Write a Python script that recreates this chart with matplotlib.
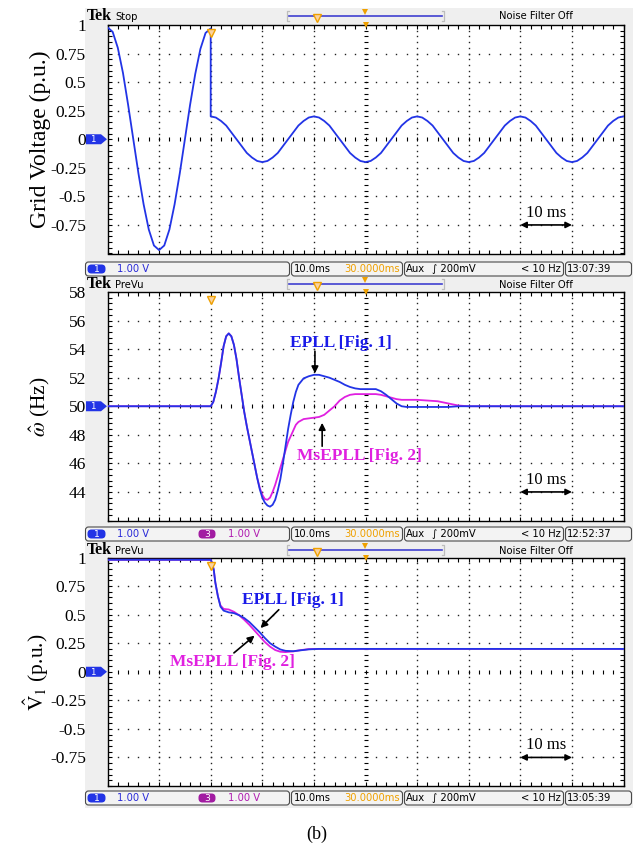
import numpy as np
import matplotlib
matplotlib.use('Agg')
import matplotlib.pyplot as plt
from matplotlib.patches import Rectangle, FancyBboxPatch, Polygon
from matplotlib.ticker import FixedLocator, MultipleLocator
from matplotlib import font_manager as fm

# ---------------- data ----------------
# Panel (a): grid voltage, p.u., time in ms
t_grid = list(range(0, 21)) + [20] + list(range(21, 101))
v_grid = [0.98, 0.94, 0.80, 0.58, 0.30, 0.00, -0.30, -0.57, -0.79, -0.93,
          -0.97, -0.93, -0.79, -0.57, -0.30, 0.00, 0.30, 0.57, 0.79, 0.93, 0.97,
          0.20,
          0.19, 0.16, 0.12, 0.06, 0.00, -0.06, -0.12, -0.16, -0.19, -0.20,
          -0.19, -0.16, -0.12, -0.06, 0.00, 0.06, 0.12, 0.16, 0.19, 0.20,
          0.19, 0.16, 0.12, 0.06, 0.00, -0.06, -0.12, -0.16, -0.19, -0.20,
          -0.19, -0.16, -0.12, -0.06, 0.00, 0.06, 0.12, 0.16, 0.19, 0.20,
          0.19, 0.16, 0.12, 0.06, 0.00, -0.06, -0.12, -0.16, -0.19, -0.20,
          -0.19, -0.16, -0.12, -0.06, 0.00, 0.06, 0.12, 0.16, 0.19, 0.20,
          0.19, 0.16, 0.12, 0.06, 0.00, -0.06, -0.12, -0.16, -0.19, -0.20,
          -0.19, -0.16, -0.12, -0.06, 0.00, 0.06, 0.12, 0.16, 0.19, 0.20]

# Panel (b): estimated frequency, Hz
t_freq = [0, 20, 20.5, 21, 21.5, 22, 22.5, 23, 23.5, 24, 24.5, 25, 25.5, 26, 26.5,
          27, 27.5, 28, 28.5, 29, 29.5, 30, 30.5, 31, 31.5, 32, 32.5, 33, 33.5,
          34, 34.5, 35, 35.5, 36, 36.5, 37, 38, 39, 40, 41, 42, 43, 44, 45, 46,
          47, 48, 49, 50, 51, 52, 53, 54, 55, 56, 57, 58, 60, 62, 64, 66, 68, 70, 100]
f_epll = [50.0, 50.0, 50.3, 51.0, 51.9, 53.0, 54.2, 54.9, 55.1, 54.9, 54.3, 53.3,
          52.0, 50.8, 49.6, 48.6, 47.7, 46.8, 45.9, 45.0, 44.2, 43.6, 43.25, 43.05,
          42.97, 43.1, 43.45, 44.1, 44.9, 46.0, 47.2, 48.4, 49.4, 50.3, 51.0, 51.5,
          51.95, 52.1, 52.2, 52.2, 52.1, 52.0, 51.85, 51.7, 51.5, 51.35, 51.25, 51.2,
          51.2, 51.2, 51.2, 51.05, 50.8, 50.5, 50.2, 50.0, 49.95, 49.95, 49.95, 49.95,
          49.95, 50.0, 50.0, 50.0]
f_msepll = [50.0, 50.0, 50.3, 51.0, 51.9, 53.0, 54.2, 54.9, 55.1, 54.9, 54.3, 53.3,
            52.0, 50.8, 49.6, 48.6, 47.7, 46.8, 45.9, 45.0, 44.3, 43.8, 43.5, 43.45,
            43.6, 44.0, 44.5, 45.1, 45.7, 46.3, 46.9, 47.5, 47.9, 48.3, 48.7, 48.9,
            49.1, 49.15, 49.2, 49.25, 49.4, 49.7, 50.0, 50.4, 50.65, 50.8, 50.85, 50.85,
            50.85, 50.85, 50.85, 50.8, 50.7, 50.6, 50.5, 50.45, 50.45, 50.45, 50.4, 50.35,
            50.2, 50.05, 50.0, 50.0]

# Panel (c): estimated amplitude, p.u.
t_amp = [0, 20, 20.3, 20.6, 20.9, 21.4, 21.9, 22.5, 23.5, 24.5, 25.5, 26.5, 27.5,
         28.5, 29.5, 30.5, 31.5, 32.5, 33.5, 34.5, 36, 37.5, 39, 41, 100]
a_epll = [0.98, 0.98, 0.95, 0.89, 0.78, 0.66, 0.57, 0.535, 0.52, 0.513, 0.495, 0.47,
          0.435, 0.39, 0.345, 0.295, 0.25, 0.22, 0.195, 0.183, 0.18, 0.188, 0.196, 0.2, 0.2]
a_msepll = [0.98, 0.98, 0.95, 0.89, 0.78, 0.66, 0.58, 0.55, 0.545, 0.525, 0.495, 0.455,
            0.41, 0.36, 0.31, 0.26, 0.22, 0.19, 0.175, 0.172, 0.178, 0.19, 0.198, 0.2, 0.2]

pu_ticks = [1, 0.75, 0.5, 0.25, 0, -0.25, -0.5, -0.75]
pu_labels = ['1', '0.75', '0.5', '0.25', '0', '-0.25', '-0.5', '-0.75']
hz_ticks = [58, 56, 54, 52, 50, 48, 46, 44]
hz_labels = ['58', '56', '54', '52', '50', '48', '46', '44']
clock = ['13:07:39', '12:52:37', '13:05:39']
states = ['Stop', 'PreVu', 'PreVu']

# ---------------- style ----------------
plt.rcParams['font.family'] = ['Liberation Serif', 'DejaVu Serif']
plt.rcParams['mathtext.fontset'] = 'stix'
names = {f.name for f in fm.fontManager.ttflist}
if 'Liberation Sans Narrow' in names:
    SF, SS = ['Liberation Sans Narrow', 'DejaVu Sans'], 9.2
else:
    SF, SS = ['DejaVu Sans'], 7.2

BLUE = '#2234e6'
MAG = '#e020e0'
ORANGE = '#efa000'
BTXT = '#2a2ad8'
PTXT = '#b01cb0'

W, H = 635, 851
fig = plt.figure(figsize=(6.35, 8.51), dpi=100)
bg = fig.add_axes([0, 0, 1, 1])
bg.set_xlim(0, W)
bg.set_ylim(H, 0)
bg.axis('off')
bg.add_patch(Rectangle((85, 8), 548, 800, facecolor='#efefef', edgecolor='none'))

GL, GR = 107.5, 623.5
panels = [dict(top=25, bot=253.5, hdr=15.5, st=(262, 276)),
          dict(top=292, bot=520.5, hdr=284, st=(527, 541)),
          dict(top=557.5, bot=786, hdr=550, st=(791, 805))]
ylims = [(-1, 1), (42, 58), (-1, 1)]


def sbox(x0, x1, y0, y1):
    bg.add_patch(FancyBboxPatch((x0 + 2, y0 + 1.5), x1 - x0 - 4, y1 - y0 - 3,
                                boxstyle='round,pad=1.5,rounding_size=3',
                                fc='#f3f3f3', ec='#4a4a4a', lw=0.8))


def badge(x0, x1, yc, color, label):
    bg.add_patch(FancyBboxPatch((x0 + 3, yc - 3), x1 - x0 - 6, 6,
                                boxstyle='round,pad=1.5,rounding_size=4',
                                fc=color, ec='none'))
    bg.text((x0 + x1) / 2, yc + 0.5, label, color='white', fontsize=SS - 0.5,
            family=SF, ha='center', va='center')


axes = []
for i, p in enumerate(panels):
    ax = fig.add_axes([GL / W, 1 - p['bot'] / H, (GR - GL) / W, (p['bot'] - p['top']) / H])
    ax.set_facecolor('white')
    ax.set_xlim(0, 100)
    y0, y1 = ylims[i]
    ax.set_ylim(y0, y1)
    div_y = (y1 - y0) / 8
    ax.xaxis.set_major_locator(MultipleLocator(10))
    ax.xaxis.set_minor_locator(MultipleLocator(2))
    ax.yaxis.set_minor_locator(MultipleLocator(div_y / 5))
    if i == 1:
        ax.yaxis.set_major_locator(FixedLocator(hz_ticks))
        ax.set_yticklabels(hz_labels)
    else:
        ax.yaxis.set_major_locator(FixedLocator(pu_ticks))
        ax.set_yticklabels(pu_labels)
    ax.tick_params(axis='both', which='both', direction='in', length=3, width=0.8,
                   top=True, bottom=True, left=True, right=True, labelbottom=False)
    ax.tick_params(axis='y', which='major', pad=15.5, labelsize=12.5)
    for s in ax.spines.values():
        s.set_linewidth(1.0)
    # graticule dots
    yc = (y0 + y1) / 2
    xs_minor = np.arange(2, 100, 2)
    for k in range(1, 8):
        yy = y0 + k * div_y
        if abs(yy - yc) < 1e-9:
            continue
        ax.plot(xs_minor, np.full(len(xs_minor), yy), ls='none', marker='s', ms=1.0,
                mew=0, color='#222222', zorder=1)
    ys_minor = np.arange(y0 + div_y / 5, y1 - 1e-9, div_y / 5)
    for k in range(1, 10):
        if k == 5:
            continue
        ax.plot(np.full(len(ys_minor), k * 10.0), ys_minor, ls='none', marker='s', ms=1.0,
                mew=0, color='#222222', zorder=1)
    # centre cross ticks
    ax.plot(xs_minor, np.full(len(xs_minor), yc), ls='none', marker='|', ms=3.5,
            mew=0.8, color='k', zorder=1)
    ax.plot(np.full(len(ys_minor), 50.0), ys_minor, ls='none', marker='_', ms=3.5,
            mew=0.8, color='k', zorder=1)
    # markers on graticule
    ax.plot([50], [y1], marker='v', ms=5, color=ORANGE, mew=0, clip_on=False, zorder=5)
    ax.plot([20], [y1 - 8 * div_y * 8 / 228.5], marker='v', ms=6, mfc='#fad2a0',
            mec=ORANGE, mew=1.0, zorder=5)
    # 10 ms scale
    ya = y0 + div_y
    ax.annotate('', xy=(90, ya), xytext=(80, ya),
                arrowprops=dict(arrowstyle='<|-|>', color='k', lw=1.2,
                                mutation_scale=9, shrinkA=0, shrinkB=0))
    ax.text(85, ya + 0.42 * div_y, '10 ms', ha='center', va='center', fontsize=12)
    axes.append(ax)

    # header
    h = p['hdr']
    bg.text(87, h, 'Tek', fontsize=11.5, fontweight='bold', ha='left', va='center',
            family=['Liberation Serif'])
    bg.text(115, h + 1, states[i], fontsize=SS, family=SF, ha='left', va='center')
    bg.text(499, h + 0.5, 'Noise Filter Off', fontsize=SS, family=SF, ha='left', va='center')
    for bx, d in ((287, 1), (444, -1)):
        bg.plot([bx + 2 * d, bx, bx, bx + 2 * d], [h - 5, h - 5, h + 5, h + 5],
                color='#bdbdbd', lw=0.9)
    bg.plot([289, 442], [h, h], color='#4040d0', lw=1.2)
    bg.plot([365], [h - 4], marker='v', ms=5, color=ORANGE, mew=0)
    bg.plot([317], [h + 2], marker='v', ms=6, mfc='#fad2a0', mec=ORANGE, mew=1.0)

    # channel-1 tag at zero level
    zc = p['top'] + (p['bot'] - p['top']) / 2
    bg.add_patch(Polygon([(86, zc - 5), (101, zc - 5), (107, zc), (101, zc + 5), (86, zc + 5)],
                         closed=True, fc=BLUE, ec='none', zorder=3))
    bg.text(93, zc + 0.5, '1', color='white', fontsize=SS - 1, family=SF, ha='center',
            va='center', zorder=4)

    # status bar
    s0, s1 = p['st']
    sm = (s0 + s1) / 2
    sbox(85, 290, s0, s1)
    sbox(291, 403, s0, s1)
    sbox(404, 564, s0, s1)
    sbox(565, 632, s0, s1)
    badge(86, 107, sm, BLUE, '1')
    bg.text(117, sm, '1.00 V', color=BTXT, fontsize=SS, family=SF, ha='left', va='center')
    if i > 0:
        badge(197, 217, sm, '#a21ca2', '3')
        bg.text(228, sm, '1.00 V', color=PTXT, fontsize=SS, family=SF, ha='left', va='center')
    bg.text(294, sm, '10.0ms', fontsize=SS, family=SF, ha='left', va='center')
    bg.text(400, sm, '30.0000ms', color=ORANGE, fontsize=SS, family=SF, ha='right', va='center')
    bg.text(406, sm, 'Aux', fontsize=SS, family=SF, ha='left', va='center')
    bg.text(432, sm, '\u222b 200mV', fontsize=SS, family=SF, ha='left', va='center')
    bg.text(561, sm, '< 10 Hz', fontsize=SS, family=SF, ha='right', va='center')
    bg.text(567, sm, clock[i], fontsize=SS, family=SF, ha='left', va='center')

ax1, ax2, ax3 = axes

# traces
ax1.plot(t_grid, v_grid, color=BLUE, lw=1.3, zorder=3)
ax2.plot(t_freq, f_msepll, color=MAG, lw=1.3, zorder=3)
ax2.plot(t_freq, f_epll, color=BLUE, lw=1.3, zorder=4)
ax3.plot(t_amp, a_msepll, color=MAG, lw=1.3, zorder=3)
ax3.plot(t_amp, a_epll, color=BLUE, lw=1.3, zorder=4)

# annotations
arr = dict(arrowstyle='-|>', color='k', lw=1.2, mutation_scale=10, shrinkA=0, shrinkB=0)
ax2.text(45.3, 54.46, 'EPLL [Fig. 1]', color='#1a1ae8', fontweight='bold', fontsize=12.5,
         ha='center', va='center', zorder=6)
ax2.annotate('', xy=(40.2, 52.3), xytext=(40.2, 53.85), arrowprops=arr, zorder=6)
ax2.text(48.8, 46.55, 'MsEPLL [Fig. 2]', color=MAG, fontweight='bold', fontsize=12.5,
         ha='center', va='center', zorder=6)
ax2.annotate('', xy=(41.6, 48.84), xytext=(41.6, 47.2), arrowprops=arr, zorder=6)

ax3.text(35.95, 0.63, 'EPLL [Fig. 1]', color='#1a1ae8', fontweight='bold', fontsize=12.5,
         ha='center', va='center', zorder=6)
ax3.annotate('', xy=(29.65, 0.383), xytext=(33.2, 0.543), arrowprops=arr, zorder=6)
ax3.text(24.2, 0.081, 'MsEPLL [Fig. 2]', color=MAG, fontweight='bold', fontsize=12.5,
         ha='center', va='center', zorder=6)
ax3.annotate('', xy=(28.5, 0.316), xytext=(24.5, 0.165), arrowprops=arr, zorder=6)

# axis titles
bg.text(40, 139, 'Grid Voltage (p.u.)', rotation=90, ha='center', va='center', fontsize=17)
bg.text(40, 407, r'$\hat{\omega}$ (Hz)', rotation=90, ha='center', va='center', fontsize=15.5)
bg.text(36, 672, r'$\hat{\mathrm{V}}_1$ (p.u.)', rotation=90, ha='center', va='center',
        fontsize=15.5)
bg.text(316.5, 834, '(b)', ha='center', va='center', fontsize=13)

fig.savefig('out.png', dpi=100)
